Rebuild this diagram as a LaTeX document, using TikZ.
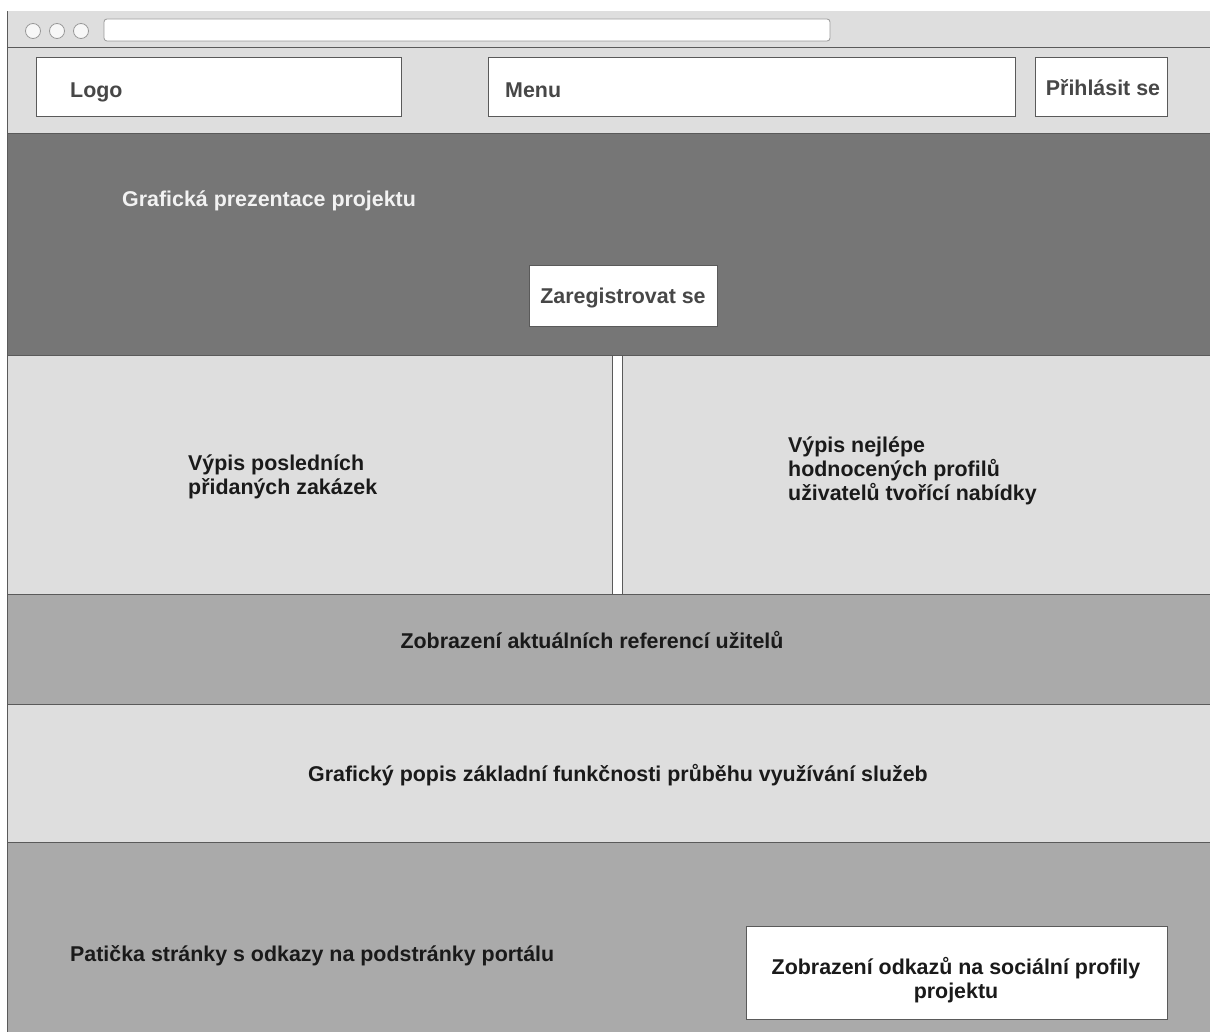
\documentclass[tikz,border=0pt]{standalone}
\usepackage{fontspec}
\setmainfont{Liberation Sans}
\definecolor{lite}{HTML}{DEDEDE}
\definecolor{dark}{HTML}{767676}
\definecolor{mid}{HTML}{AAAAAA}
\definecolor{edge}{HTML}{5A5A5A}
\definecolor{ink}{HTML}{1A1A1A}
\definecolor{soft}{HTML}{474747}
\newcommand{\drawBand}[3]{\draw[fill=#3] (7,#1) rectangle (1210,#2)}
\tikzset{
	wbox/.style={draw=edge, fill=white, line width=1pt, inner sep=0pt},
	lbl/.style={font=\bfseries\fontsize{21.4}{24}\selectfont, text=ink, inner sep=0pt},
}

\begin{document}
\begin{tikzpicture}[x=1pt,y=-1pt]
		\useasboundingbox[fill=white] (0,0) rectangle (1210,1032);
		\begin{scope}[draw=edge, line width=1pt]
			\drawBand{12}{134}{lite};
			\drawBand{134}{355}{dark};
			\drawBand{355}{594}{lite};
			\drawBand{594}{704}{mid};
			\drawBand{704}{842}{lite};
			\drawBand{842}{1040}{mid};
			\draw (7,48) to (1210,48);
			\draw[fill=white] (612,355) rectangle (622,594);
			\draw[lite, line width=1.2pt] (7.5,12) to (1210,12);
		\end{scope}
		\begin{scope}[draw=black!40, fill=black!3, line width=0.8pt]
			\filldraw (33,31) circle (7.5);
			\filldraw (57,31) circle (7.5);
			\filldraw (81,31) circle (7.5);
			\filldraw[fill=white, rounded corners=3pt] (104,19) rectangle (830,41);
		\end{scope}
		% header
		\node (logobox) [wbox, minimum width=365, minimum height=59] at (218.5,87.5) {};
		\node (menubox) [wbox, minimum width=527, minimum height=59] at (751.5,87.5) {};
		\node (loginbox) [wbox, minimum width=132, minimum height=59] at (1101,87.5) {};
		\node (login) [lbl, text=soft, anchor=base] at (1103,96) {Přihlásit se};
		\node (logo) [lbl, text=soft, anchor=base west] at (70,98) {Logo};
		\node (menu) [lbl, text=soft, anchor=base west] at (505,98) {Menu};
		% content
		\node (intro) [lbl, text=black!5, anchor=base west] at (122,207) {Grafická prezentace projektu};
		\node (regbox) [wbox, minimum width=188, minimum height=60] at (623,296) {};
		\node (reg) [lbl, text=soft, anchor=base] at (623,304) {Zaregistrovat se};
		\node (jobs) [lbl, anchor=base west, align=left] at (188,494) {Výpis posledních\\přidaných zakázek};
		\node (best) [lbl, anchor=base west, align=left] at (788,500) {Výpis nejlépe\\hodnocených profilů\\uživatelů tvořící nabídky};
		\node (refs) [lbl, anchor=base] at (592,648) {Zobrazení aktuálních referencí užitelů};
		\node (howto) [lbl, anchor=base] at (618,781) {Grafický popis základní funkčnosti průběhu využívání služeb};
		% footer
		\node (foot) [lbl, anchor=base west] at (70,961) {Patička stránky s odkazy na podstránky portálu};
		\node (socbox) [wbox, minimum width=421, minimum height=93] at (956.5,972.5) {};
		\node (social) [lbl, align=center, anchor=base] at (956,998) {Zobrazení odkazů na sociální profily\\projektu};
	\end{tikzpicture}
\end{document}
